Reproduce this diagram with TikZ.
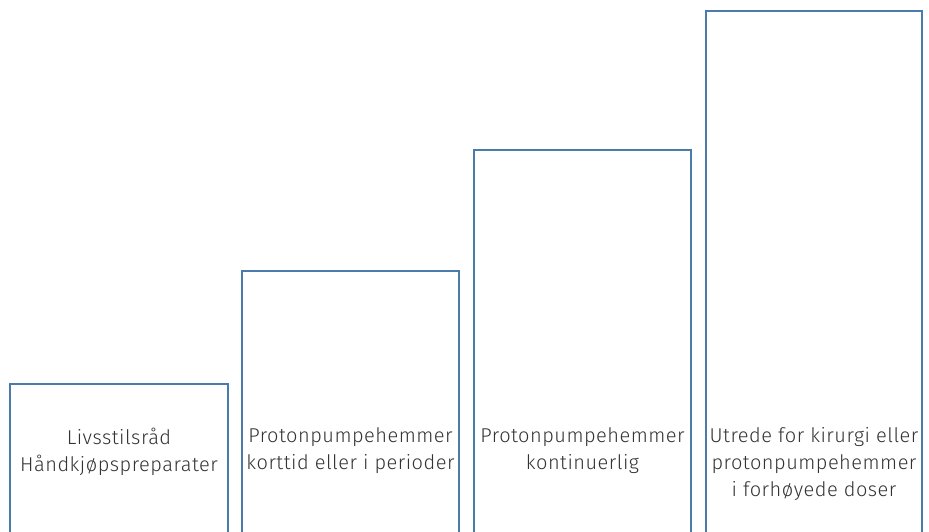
\documentclass[tikz,border=0pt]{standalone}
\usepackage{fontspec}
\setmainfont{Fira Sans}[UprightFont=* Light,LetterSpace=2.5]
\definecolor{boxblue}{HTML}{4A7BAA}
\definecolor{txt}{HTML}{333333}
\begin{document}
\begin{tikzpicture}[x=1pt,y=-1pt,
  col/.style={draw=boxblue,line width=2pt},
  lbl/.style={text=txt,font=\fontsize{20}{27}\selectfont,align=center,anchor=north,inner sep=0pt}]
\useasboundingbox (0,0) rectangle (929,531);
\begin{scope}
\clip (0,0) rectangle (929,531);
\draw[col] (10,540) -- (10,384) -- (228,384) -- (228,540);
\draw[col] (242,540) -- (242,271) -- (459,271) -- (459,540);
\draw[col] (474,540) -- (474,150) -- (691,150) -- (691,540);
\draw[col] (706,540) -- (706,11) -- (922,11) -- (922,540);
\end{scope}
\node[lbl] (a) at (119,427.5) {Livsstilsråd\\Håndkjøpspreparater};
\node[lbl] (b) at (350.5,427.5) {Protonpumpehemmer\\korttid eller i perioder};
\node[lbl] (c) at (582.5,427.5) {Protonpumpehemmer\\kontinuerlig};
\node[lbl] (d) at (814,427.5) {Utrede for kirurgi eller\\protonpumpehemmer\\i forhøyede doser};
\end{tikzpicture}
\end{document}
